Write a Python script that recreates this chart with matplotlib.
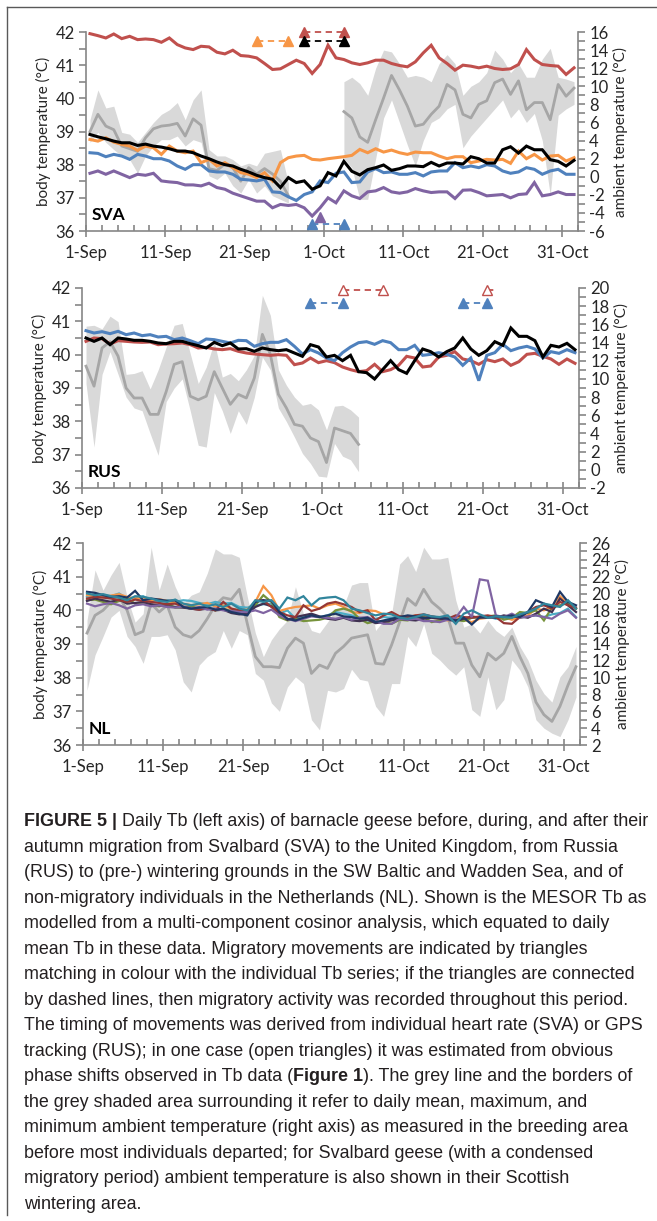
#%%
import numpy as np
import matplotlib
matplotlib.use("Agg")
import matplotlib.pyplot as plt
from matplotlib.lines import Line2D
from matplotlib.ticker import MultipleLocator

plt.rcParams["font.family"] = ["Lato", "DejaVu Sans"]
plt.rcParams["axes.unicode_minus"] = False

## X AXIS : one value per day, 1-Sep .. 1-Nov
N_DAYS : int = 62
DATE_TICKS = [0, 10, 20, 30, 40, 50, 60]
DATE_LABELS = ["1-Sep", "11-Sep", "21-Sep", "1-Oct", "11-Oct", "21-Oct", "31-Oct"]

## SVA body temperature (left axis)
sva_red = [41.95, 41.89, 41.82, 41.94, 41.80, 41.87, 41.77, 41.79, 41.77, 41.69,
           41.82, 41.62, 41.52, 41.47, 41.57, 41.55, 41.39, 41.34, 41.45, 41.29,
           41.27, 41.22, 41.05, 40.87, 40.89, 41.02, 41.15, 41.05, 40.75, 41.02,
           41.60, 41.22, 41.17, 41.07, 41.02, 41.07, 41.15, 41.15, 41.05, 40.99,
           40.95, 41.10, 41.37, 41.60, 41.22, 41.05, 40.85, 41.00, 40.97, 40.92,
           40.97, 40.90, 40.87, 40.89, 41.02, 41.47, 41.17, 41.02, 40.99, 40.97,
           40.72, 40.92]
sva_orange = [38.76, 38.71, 38.81, 38.68, 38.61, 38.56, 38.43, 38.56, 38.51, 38.31,
              38.56, 38.41, 38.36, 38.41, 38.06, 38.16, 37.96, 38.06, 37.91, 37.76,
              37.71, 37.61, 37.76, 37.51, 38.06, 38.21, 38.26, 38.28, 38.16, 38.14,
              38.18, 38.21, 38.24, 38.28, 38.46, 38.36, 38.48, 38.38, 38.44, 38.36,
              38.31, 38.38, 38.36, 38.36, 38.26, 38.18, 38.24, 38.24, 38.06, 38.11,
              38.16, 38.14, 38.16, 38.04, 38.41, 38.18, 38.31, 38.14, 38.26, 38.28,
              38.11, 38.21]
sva_black = [38.91, 38.84, 38.78, 38.71, 38.66, 38.66, 38.58, 38.62, 38.56, 38.53,
             38.48, 38.41, 38.41, 38.36, 38.26, 38.18, 38.08, 38.00, 37.96, 37.86,
             37.78, 37.68, 37.61, 37.56, 37.31, 37.61, 37.46, 37.51, 37.26, 37.36,
             37.76, 37.66, 38.10, 37.80, 37.69, 37.85, 37.91, 37.99, 37.83, 37.88,
             37.96, 37.96, 37.94, 38.07, 37.96, 38.05, 38.05, 38.02, 38.24, 38.18,
             38.05, 38.05, 38.45, 38.54, 38.35, 38.56, 38.45, 38.45, 38.15, 38.10,
             37.96, 38.13]
sva_blue = [38.36, 38.34, 38.24, 38.31, 38.26, 38.16, 38.31, 38.26, 38.18, 38.18,
            38.11, 37.96, 37.86, 38.00, 38.00, 37.81, 37.78, 37.78, 37.71, 37.56,
            37.54, 37.51, 37.56, 37.18, 37.16, 37.03, 36.92, 37.10, 37.18, 37.51,
            37.46, 37.74, 37.78, 37.46, 37.48, 37.78, 37.88, 37.76, 37.78, 37.71,
            37.71, 37.76, 37.66, 37.78, 37.81, 37.81, 38.06, 37.91, 37.96, 37.91,
            38.00, 37.96, 37.81, 37.74, 37.78, 37.91, 37.86, 37.71, 37.81, 37.86,
            37.71, 37.71]
sva_purple = [37.74, 37.81, 37.71, 37.81, 37.71, 37.61, 37.71, 37.68, 37.74, 37.51,
              37.48, 37.46, 37.39, 37.39, 37.36, 37.44, 37.31, 37.26, 37.14, 37.06,
              36.98, 36.90, 36.90, 36.70, 36.80, 36.77, 36.80, 36.70, 36.45, 36.70,
              37.00, 36.85, 37.21, 37.06, 36.98, 37.18, 37.21, 37.31, 37.18, 37.14,
              37.18, 37.28, 37.21, 37.16, 37.18, 37.18, 36.98, 37.23, 37.24, 37.16,
              37.06, 37.08, 37.10, 37.00, 37.10, 37.12, 37.46, 37.06, 37.10, 37.18,
              37.10, 37.10]

## SVA ambient temperature (right axis): Svalbard from 1-Sep, Scotland from 3-Oct
SVA_SVALBARD_START : int = 0
sva_amb_svalbard = [5.0, 6.9, 5.6, 5.2, 3.4, 3.1, 2.8, 4.3, 5.3, 5.6, 5.7, 5.9, 4.5,
                    6.4, 5.7, 0.9, 0.7, 1.4, 1.0, -0.5, 1.0, 0.3, 0.9, 0.3, -0.5, -2.1]
sva_amb_svalbard_max = [6.3, 9.6, 7.6, 7.8, 4.9, 4.7, 3.8, 4.9, 6.0, 6.9, 7.4, 8.2, 6.3,
                        8.5, 9.6, 3.0, 2.3, 2.3, 1.9, 1.2, 1.5, 1.2, 2.6, 2.8, 3.0, -0.7]
sva_amb_svalbard_min = [3.8, 4.9, 3.8, 3.0, 2.3, 1.9, 0.4, 2.3, 3.4, 4.1, 4.1, 4.5, 3.4,
                        4.1, 3.8, 0.1, -0.3, 0.4, -1.0, -1.8, -0.3, -1.8, -1.0, -2.1, -2.5, -2.9]
SVA_SCOTLAND_START : int = 32
sva_amb_scotland = [7.2, 6.5, 4.4, 3.8, 6.3, 8.7, 11.2, 9.6, 7.8, 5.6, 5.8, 6.9, 7.8,
                    10.2, 9.6, 6.9, 6.5, 8.0, 8.4, 10.4, 10.8, 9.1, 10.6, 7.4, 8.2,
                    8.2, 6.3, 10.2, 8.9, 9.8]
sva_amb_scotland_max = [10.5, 11.0, 10.3, 9.0, 12.0, 14.0, 13.8, 12.5, 11.0, 11.2, 11.0,
                        10.5, 12.5, 13.5, 12.5, 9.0, 10.0, 10.5, 11.5, 14.0, 13.0, 11.5,
                        12.5, 11.0, 11.0, 13.0, 14.2, 11.0, 10.8, 10.5]
sva_amb_scotland_min = [2.0, 1.0, -2.5, -2.5, 2.0, 6.5, 8.5, 6.0, 3.5, 1.2, 4.0, 6.0,
                        6.5, 7.5, 8.0, 3.2, 4.5, 5.5, 6.5, 7.5, 8.5, 6.5, 7.5, 6.0, 7.0,
                        4.0, -2.0, 6.8, 7.5, 8.0]

## SVA movements: colour, first day, last day, level on left axis, filled, marker at end
sva_moves = [("orange", 21, 25, 41.72, True, True),
             ("red", 27, 32, 42.00, True, True),
             ("black", 27, 32, 41.72, True, True),
             ("blue", 28, 32, 36.20, True, True),
             ("purple", 29, 29, 36.43, True, True)]

## RUS body temperature
rus_red = [40.40, 40.50, 40.48, 40.32, 40.42, 40.40, 40.38, 40.37, 40.38, 40.30,
           40.32, 40.33, 40.35, 40.30, 40.20, 40.22, 40.17, 40.15, 40.18, 40.10,
           40.05, 40.02, 40.00, 39.98, 40.00, 39.98, 39.70, 39.75, 39.90, 39.76,
           39.82, 39.76, 39.63, 39.55, 39.49, 39.52, 39.71, 39.49, 39.55, 39.68,
           39.95, 39.90, 39.63, 39.66, 39.93, 39.98, 40.09, 39.87, 39.82, 39.71,
           39.85, 39.79, 39.87, 39.68, 39.79, 40.01, 40.04, 39.95, 39.87, 39.71,
           39.87, 39.74]
rus_blue = [40.72, 40.65, 40.69, 40.63, 40.70, 40.60, 40.65, 40.57, 40.60, 40.53,
            40.55, 40.45, 40.50, 40.42, 40.33, 40.47, 40.45, 40.40, 40.35, 40.43,
            40.42, 40.25, 40.33, 40.37, 40.37, 40.45, 40.25, 40.02, 40.15, 40.05,
            39.90, 39.82, 40.06, 40.23, 40.36, 40.39, 40.31, 40.42, 40.36, 40.15,
            40.15, 40.28, 39.98, 40.01, 40.06, 40.01, 39.93, 39.68, 39.90, 39.22,
            39.98, 40.06, 40.31, 40.12, 40.20, 40.25, 40.17, 39.90, 40.09, 40.04,
            40.15, 40.06]
rus_black = [40.50, 40.40, 40.50, 40.30, 40.50, 40.47, 40.43, 40.43, 40.40, 40.35,
             40.33, 40.40, 40.40, 40.33, 40.27, 40.20, 40.37, 40.27, 40.35, 40.17,
             40.18, 40.10, 40.20, 40.15, 40.12, 40.15, 40.05, 39.95, 40.30, 40.23,
             39.93, 39.98, 39.82, 39.98, 39.49, 39.46, 39.27, 39.55, 39.82, 39.55,
             39.44, 39.82, 40.17, 40.09, 39.93, 40.09, 40.20, 40.50, 40.17, 39.98,
             40.12, 40.39, 40.28, 40.80, 40.55, 40.55, 40.42, 39.93, 40.28, 40.23,
             40.34, 40.15]

## RUS ambient temperature (breeding area, until 4-Oct)
rus_amb = [11.4, 9.2, 13.4, 14.1, 12.5, 9.0, 7.9, 7.9, 6.1, 6.1, 8.6, 11.6, 11.9,
           8.1, 7.7, 8.1, 10.8, 9.0, 7.2, 8.3, 7.9, 10.1, 14.9, 12.7, 8.3, 6.8, 5.0,
           4.8, 3.5, 3.1, 0.8, 4.6, 4.3, 4.0, 2.8]
rus_amb_max = [15.8, 15.9, 15.5, 16.9, 16.3, 10.5, 10.6, 10.9, 8.9, 11.0, 13.5, 15.9,
               16.1, 12.8, 9.5, 11.3, 14.1, 10.2, 10.6, 9.8, 11.0, 12.6, 19.2, 17.0,
               11.0, 9.3, 8.0, 7.1, 7.3, 6.6, 4.4, 7.0, 7.1, 6.6, 5.8]
rus_amb_min = [9.5, 2.5, 10.5, 13.0, 10.5, 8.0, 6.8, 6.5, 4.0, 1.6, 7.5, 9.0, 10.0,
               6.5, 2.7, 2.5, 8.5, 6.5, 4.0, 6.5, 5.0, 8.0, 12.4, 11.0, 6.8, 5.3, 3.6,
               1.8, 0.7, -0.7, -0.8, 2.9, 1.5, 1.1, -0.2]

rus_moves = [("blue", 28, 32, 41.55, True, True),
             ("red", 32, 37, 41.93, False, True),
             ("blue", 47, 50, 41.55, True, True),
             ("red", 50, 51, 41.93, False, False)]

## NL body temperature (non-migratory individuals)
nl_orange = [40.45, 40.42, 40.38, 40.44, 40.48, 40.40, 40.35, 40.38, 40.30, 40.33,
             40.28, 40.22, 40.20, 40.15, 40.18, 40.22, 40.12, 40.15, 40.05, 40.00,
             40.02, 40.25, 40.72, 40.45, 39.98, 40.05, 40.10, 40.12, 40.15, 40.05,
             40.15, 40.20, 40.10, 39.95, 39.92, 40.00, 39.98, 39.88, 39.90, 39.82,
             39.78, 39.85, 39.80, 39.78, 39.75, 39.70, 39.80, 39.72, 39.65, 39.75,
             39.78, 39.82, 39.80, 39.72, 39.78, 39.85, 40.05, 40.00, 40.10, 40.42,
             40.20, 40.05]
nl_cyan = [40.40, 40.48, 40.45, 40.42, 40.50, 40.35, 40.38, 40.42, 40.30, 40.28,
           40.30, 40.25, 40.30, 40.28, 40.22, 40.18, 40.25, 40.20, 40.22, 40.10,
           40.08, 40.15, 40.18, 40.20, 39.90, 40.00, 39.75, 39.82, 39.85, 39.80,
           39.85, 39.95, 39.90, 39.85, 39.78, 39.70, 39.75, 39.80, 39.78, 39.82,
           39.78, 39.80, 39.85, 39.82, 39.78, 39.80, 39.72, 39.70, 39.78, 39.80,
           39.82, 39.75, 39.78, 39.80, 39.78, 39.82, 39.85, 39.80, 39.88, 39.92,
           40.05, 39.80]
nl_green = [40.30, 40.32, 40.25, 40.18, 40.28, 40.35, 40.20, 40.22, 40.15, 40.12,
            40.20, 40.08, 40.10, 40.12, 40.05, 40.08, 40.00, 40.05, 39.98, 39.95,
            40.00, 40.15, 40.45, 40.25, 39.80, 39.70, 39.75, 39.68, 39.70, 39.72,
            39.78, 40.00, 40.05, 39.98, 39.75, 39.62, 39.68, 39.65, 39.60, 39.72,
            39.70, 39.78, 39.80, 39.65, 39.70, 39.75, 39.72, 39.68, 39.78, 39.80,
            39.82, 39.85, 39.72, 39.78, 39.95, 39.92, 40.00, 39.70, 40.08, 40.15,
            40.22, 40.05]
nl_darkred = [40.35, 40.40, 40.38, 40.35, 40.30, 40.25, 40.32, 40.28, 40.25, 40.22,
              40.18, 40.20, 40.10, 40.05, 40.02, 40.08, 40.00, 40.25, 40.05, 40.00,
              39.95, 40.28, 40.30, 40.10, 39.95, 39.85, 39.80, 40.15, 39.98, 40.05,
              40.20, 40.25, 40.18, 40.10, 39.95, 40.00, 39.70, 39.85, 39.95, 39.82,
              39.80, 39.85, 39.88, 39.82, 39.78, 39.75, 39.85, 39.80, 39.78, 39.82,
              39.85, 39.80, 39.62, 39.60, 39.80, 39.95, 40.10, 40.15, 40.05, 40.25,
              40.15, 40.08]
nl_purple = [40.20, 40.12, 40.18, 40.22, 40.15, 40.05, 40.15, 40.18, 40.12, 40.15,
             40.10, 40.08, 40.12, 40.05, 40.10, 40.02, 40.05, 40.00, 39.98, 39.95,
             39.95, 40.00, 39.92, 40.02, 39.85, 39.75, 39.68, 39.75, 39.82, 39.80,
             39.78, 39.75, 39.80, 39.72, 39.78, 39.80, 39.68, 39.60, 39.60, 39.75,
             39.72, 39.75, 39.68, 39.68, 39.65, 39.72, 39.78, 40.10, 39.80, 40.92,
             40.88, 39.85, 39.80, 39.90, 39.78, 39.82, 39.85, 39.80, 39.75, 39.90,
             40.00, 39.78]
nl_navy = [40.55, 40.52, 40.45, 40.40, 40.42, 40.38, 40.58, 40.30, 40.35, 40.32,
           40.28, 40.30, 40.10, 40.05, 40.08, 40.10, 40.02, 40.05, 39.95, 39.90,
           39.85, 40.25, 40.30, 40.28, 39.95, 39.75, 39.70, 39.78, 39.85, 39.80,
           39.85, 39.90, 39.82, 39.80, 39.75, 39.78, 39.65, 39.70, 39.75, 39.80,
           39.85, 39.82, 39.78, 39.80, 39.78, 39.75, 39.70, 39.78, 39.58, 39.80,
           39.78, 39.82, 39.80, 39.85, 39.80, 39.95, 40.30, 40.20, 40.10, 40.55,
           40.25, 40.15]
nl_teal = [40.50, 40.45, 40.48, 40.42, 40.38, 40.30, 40.42, 40.40, 40.35, 40.28,
           40.25, 40.32, 40.20, 40.15, 40.20, 40.12, 40.18, 40.10, 40.20, 40.05,
           40.00, 40.30, 40.25, 40.30, 40.05, 40.38, 40.30, 40.42, 40.15, 40.35,
           40.38, 40.40, 40.30, 40.05, 40.00, 39.92, 39.85, 39.90, 39.88, 39.78,
           39.75, 39.80, 39.88, 39.82, 39.80, 39.85, 39.60, 39.90, 40.00, 39.88,
           39.78, 39.82, 39.80, 39.78, 39.88, 39.95, 40.05, 40.20, 40.15, 40.10,
           40.30, 40.05]
nl_darkpurple = [40.28, 40.35, 40.30, 40.25, 40.32, 40.20, 40.22, 40.25, 40.18, 40.15,
                 40.12, 40.10, 40.08, 40.05, 40.02, 40.05, 40.00, 40.02, 39.92, 39.88,
                 39.90, 40.10, 40.20, 40.12, 39.90, 39.72, 39.80, 39.85, 39.90, 39.82,
                 39.75, 39.72, 39.78, 39.70, 39.68, 39.72, 39.62, 39.65, 39.70, 39.75,
                 39.72, 39.70, 39.75, 39.78, 39.75, 39.72, 39.68, 39.75, 39.82, 39.78,
                 39.80, 39.78, 39.85, 39.80, 39.82, 39.78, 39.90, 40.05, 39.95, 40.35,
                 40.15, 39.95]

## NL ambient temperature
nl_amb = [15.3, 17.4, 18.0, 19.0, 19.6, 18.0, 15.1, 15.5, 18.8, 17.8, 18.6, 16.0,
          15.1, 14.8, 15.6, 17.0, 18.6, 19.5, 19.3, 20.5, 16.4, 12.5, 11.3, 11.3,
          11.2, 13.5, 14.7, 14.1, 10.5, 11.5, 11.1, 12.9, 13.7, 14.7, 14.9, 15.1,
          11.7, 11.6, 13.9, 16.6, 19.4, 18.6, 20.5, 19.0, 18.2, 17.2, 14.1, 14.1,
          11.5, 10.1, 12.9, 12.1, 12.9, 14.9, 12.5, 10.5, 7.1, 5.6, 4.8, 6.6, 9.1, 11.3]
nl_amb_max = [16.8, 22.8, 20.4, 22.2, 23.7, 19.6, 16.6, 17.6, 25.5, 20.4, 23.5, 20.8,
              18.8, 19.8, 20.2, 22.4, 25.3, 24.7, 24.7, 24.3, 19.6, 15.3, 12.5, 14.5,
              15.8, 16.8, 20.8, 17.6, 15.6, 15.3, 16.6, 18.0, 18.5, 21.0, 21.3, 21.3,
              15.6, 16.8, 17.6, 23.5, 24.5, 22.6, 25.5, 24.1, 24.1, 24.3, 19.2, 16.0,
              16.4, 15.3, 16.8, 15.6, 14.9, 16.0, 13.7, 12.1, 9.7, 8.1, 7.1, 10.1, 11.3, 13.7]
nl_amb_min = [8.5, 12.7, 14.9, 17.2, 18.0, 14.9, 13.7, 11.7, 14.9, 14.9, 15.1, 13.3,
              9.5, 8.3, 11.5, 12.5, 13.1, 15.6, 13.5, 15.6, 15.1, 10.5, 9.7, 7.0, 6.0,
              8.9, 10.1, 9.3, 5.0, 3.8, 8.5, 8.3, 8.7, 11.0, 9.8, 9.6, 6.6, 5.4, 9.3,
              9.3, 14.9, 13.7, 16.4, 12.9, 12.1, 11.1, 10.3, 11.3, 6.2, 5.4, 10.1, 6.2,
              7.4, 12.1, 10.9, 8.9, 5.0, 4.0, 3.4, 3.0, 5.0, 7.7]

COLOURS = {"red": "#C0504D", "orange": "#F79646", "black": "#000000",
           "blue": "#4F81BD", "purple": "#8064A2", "cyan": "#4BACC6",
           "green": "#77933C", "darkred": "#953735", "navy": "#1F3864",
           "teal": "#31859C", "darkpurple": "#403151"}
GREY_LINE = "#A6A6A6"
GREY_FILL = "#D9D9D9"
AXIS_GREY = "#868686"
TEXT_COL = "#262626"
TICK_SIZE : float = 12.0

W, H = 657, 1221
fig = plt.figure(figsize=(W / 100, H / 100), dpi=100)
fig.patch.set_facecolor("white")

def px_rect(left, top, right, bottom):
	return [left / W, 1 - bottom / H, (right - left) / W, (bottom - top) / H]

def setup_panel(rect, amb_lim, label):
	ax = fig.add_axes(rect)
	ax2 = ax.twinx()
	ax.set_zorder(ax2.get_zorder() + 1)
	ax.patch.set_visible(False)
	ax.set_xlim(0, N_DAYS)
	ax.set_ylim(36, 42)
	ax2.set_ylim(*amb_lim)
	ax.set_xticks(DATE_TICKS)
	ax.set_xticklabels(DATE_LABELS)
	ax.xaxis.set_minor_locator(MultipleLocator(2))
	ax.yaxis.set_major_locator(MultipleLocator(1))
	ax.yaxis.set_minor_locator(MultipleLocator(0.5))
	ax2.yaxis.set_major_locator(MultipleLocator(2))
	ax2.yaxis.set_minor_locator(MultipleLocator(1))
	for a in (ax, ax2):
		for s in a.spines.values():
			s.set_visible(False)
			s.set_color(AXIS_GREY)
			s.set_linewidth(1.2)
	ax.spines["left"].set_visible(True)
	ax.spines["bottom"].set_visible(True)
	ax2.spines["right"].set_visible(True)
	ax.tick_params(axis="x", which="major", direction="inout", length=8, width=1.2,
				   color=AXIS_GREY, labelsize=TICK_SIZE, labelcolor=TEXT_COL, pad=6)
	ax.tick_params(axis="x", which="minor", direction="in", length=4, width=1.2, color=AXIS_GREY)
	ax.tick_params(axis="y", which="major", direction="out", length=5, width=1.2,
				   color=AXIS_GREY, labelsize=TICK_SIZE, labelcolor=TEXT_COL, pad=3)
	ax.tick_params(axis="y", which="minor", direction="out", length=5, width=1.2, color=AXIS_GREY)
	ax2.tick_params(axis="y", which="major", direction="out", length=5, width=1.2,
					color=AXIS_GREY, labelsize=TICK_SIZE, labelcolor=TEXT_COL, pad=3)
	ax2.tick_params(axis="y", which="minor", direction="out", length=5, width=1.2, color=AXIS_GREY)
	ax.set_ylabel("body temperature (°C)", fontsize=11, color=TEXT_COL, labelpad=3)
	ax2.set_ylabel("ambient temperature (°C)", fontsize=11, color=TEXT_COL, labelpad=3)
	ax.text(0.012, 0.08, label, transform=ax.transAxes, fontsize=12.5,
			fontweight="bold", color="black", va="center", ha="left")
	return ax, ax2

def draw_ambient(ax2, start, mean, lo, hi):
	x = np.arange(start, start + len(mean)) + 0.5
	ax2.fill_between(x, lo, hi, color=GREY_FILL, lw=0)
	ax2.plot(x, mean, color=GREY_LINE, lw=2)

def draw_body(ax, series, lw=2.2):
	x = np.arange(N_DAYS) + 0.5
	for key, values in series:
		ax.plot(x, values, color=COLOURS[key], lw=lw, solid_joinstyle="miter")

def draw_moves(ax, moves):
	for key, d0, d1, level, filled, end_marker in moves:
		c = COLOURS[key]
		face = c if filled else "white"
		if d1 > d0:
			ax.plot([d0 + 0.5, d1 + 0.5], [level, level], color=c, lw=1.3,
					ls=(0, (3.5, 2.5)), clip_on=False, zorder=4)
		ax.plot(d0 + 0.5, level, marker="^", ms=7.5, mfc=face, mec=c, mew=1,
				clip_on=False, zorder=5, ls="none")
		if end_marker and d1 > d0:
			ax.plot(d1 + 0.5, level, marker="^", ms=7.5, mfc=face, mec=c, mew=1,
					clip_on=False, zorder=5, ls="none")

#%% SVA
ax, ax2 = setup_panel(px_rect(86, 32, 578, 231), (-6, 16), "SVA")
draw_ambient(ax2, SVA_SVALBARD_START, sva_amb_svalbard, sva_amb_svalbard_min, sva_amb_svalbard_max)
draw_ambient(ax2, SVA_SCOTLAND_START, sva_amb_scotland, sva_amb_scotland_min, sva_amb_scotland_max)
draw_body(ax, [("purple", sva_purple), ("blue", sva_blue), ("orange", sva_orange),
			   ("black", sva_black), ("red", sva_red)])
draw_moves(ax, sva_moves)

#%% RUS
ax, ax2 = setup_panel(px_rect(82, 288, 579, 488), (-2, 20), "RUS")
draw_ambient(ax2, 0, rus_amb, rus_amb_min, rus_amb_max)
draw_body(ax, [("red", rus_red), ("blue", rus_blue), ("black", rus_black)])
draw_moves(ax, rus_moves)

#%% NL
ax, ax2 = setup_panel(px_rect(83, 543, 580, 745), (2, 26), "NL")
draw_ambient(ax2, 0, nl_amb, nl_amb_min, nl_amb_max)
draw_body(ax, [("cyan", nl_cyan), ("orange", nl_orange), ("green", nl_green),
			   ("darkpurple", nl_darkpurple), ("darkred", nl_darkred),
			   ("purple", nl_purple), ("navy", nl_navy), ("teal", nl_teal)], lw=1.6)

#%% caption
CAP_FAMILY = ["Liberation Sans Narrow", "Liberation Sans", "DejaVu Sans"]
CAP_COL = "#231F20"
caption_lines = [
	[("FIGURE 5 |", "bold"), (" Daily Tb (left axis) of barnacle geese before, during, and after their", "normal")],
	[("autumn migration from Svalbard (SVA) to the United Kingdom, from Russia", "normal")],
	[("(RUS) to (pre-) wintering grounds in the SW Baltic and Wadden Sea, and of", "normal")],
	[("non-migratory individuals in the Netherlands (NL). Shown is the MESOR Tb as", "normal")],
	[("modelled from a multi-component cosinor analysis, which equated to daily", "normal")],
	[("mean Tb in these data. Migratory movements are indicated by triangles", "normal")],
	[("matching in colour with the individual Tb series; if the triangles are connected", "normal")],
	[("by dashed lines, then migratory activity was recorded throughout this period.", "normal")],
	[("The timing of movements was derived from individual heart rate (SVA) or GPS", "normal")],
	[("tracking (RUS); in one case (open triangles) it was estimated from obvious", "normal")],
	[("phase shifts observed in Tb data (", "normal"), ("Figure 1", "bold"),
	 ("). The grey line and the borders of", "normal")],
	[("the grey shaded area surrounding it refer to daily mean, maximum, and", "normal")],
	[("minimum ambient temperature (right axis) as measured in the breeding area", "normal")],
	[("before most individuals departed; for Svalbard geese (with a condensed", "normal")],
	[("migratory period) ambient temperature is also shown in their Scottish", "normal")],
	[("wintering area.", "normal")],
]

renderer = fig.canvas.get_renderer()

def text_width(s, weight, size):
	t = fig.text(0, 0, s, fontsize=size, fontweight=weight, family=CAP_FAMILY)
	w = t.get_window_extent(renderer).width
	t.remove()
	return w

def line_width(pieces, size):
	space = text_width("n n", "normal", size) - text_width("nn", "normal", size)
	total = 0
	for txt, weight in pieces:
		if txt.startswith(" "):
			total += space
		total += text_width(txt.strip(), weight, size)
	return total

TRIAL : float = 12.0
cap_size = TRIAL * 622 / line_width(caption_lines[0], TRIAL)
space_w = text_width("n n", "normal", cap_size) - text_width("nn", "normal", cap_size)

for k, pieces in enumerate(caption_lines):
	x = 24
	y = 826 + k * 25.53
	for txt, weight in pieces:
		if txt.startswith(" "):
			x += space_w
		t = fig.text(x / W, 1 - y / H, txt.strip(), fontsize=cap_size, fontweight=weight,
					 family=CAP_FAMILY, color=CAP_COL, va="baseline", ha="left")
		x += t.get_window_extent(renderer).width

# outer frame (left and top)
fig.add_artist(Line2D([7 / W, 7 / W], [1 - 1215 / H, 1 - 7 / H], color="#595959", lw=1))
fig.add_artist(Line2D([7 / W, 1], [1 - 7 / H, 1 - 7 / H], color="#595959", lw=1))

fig.savefig("out.png", dpi=100)
